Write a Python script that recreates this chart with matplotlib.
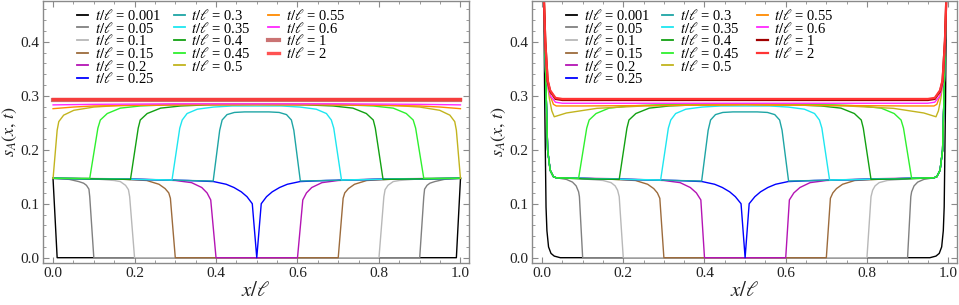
import numpy as np
import matplotlib
matplotlib.use('Agg')
import matplotlib.pyplot as plt
from matplotlib.lines import Line2D
from matplotlib.ticker import MultipleLocator, FormatStrFormatter

plt.rcParams['font.family'] = ['Liberation Serif', 'DejaVu Serif']
plt.rcParams['mathtext.fontset'] = 'stix'

# ---------------- data ----------------
t_labels = ['0.001', '0.05', '0.1', '0.15', '0.2', '0.25', '0.3', '0.35',
            '0.4', '0.45', '0.5', '0.55', '0.6', '1', '2']
colors = ['#000000', '#808080', '#b8b8b8', '#9c6b3c', '#b414b4', '#0000ff',
          '#1ea5a5', '#1ee6f0', '#12a012', '#2ef02e', '#c2b41e', '#ff8a00',
          '#ff28ff', '#a00000', '#ff3434']

# left panel: half curves (x from 0 to 0.5), symmetric about x = 0.5
left_0001_x = [0.0, 0.01, 0.5]
left_0001_y = [0.145, 0.0, 0.0]
left_005_x = [0.0, 0.04, 0.063, 0.075, 0.082, 0.088, 0.09, 0.1, 0.5]
left_005_y = [0.147, 0.145, 0.141, 0.138, 0.134, 0.127, 0.113, 0.0, 0.0]
left_01_x = [0.0, 0.1, 0.15, 0.165, 0.178, 0.185, 0.188, 0.2, 0.5]
left_01_y = [0.147, 0.146, 0.143, 0.141, 0.134, 0.126, 0.113, 0.0, 0.0]
left_015_x = [0.0, 0.15, 0.23, 0.26, 0.275, 0.284, 0.288, 0.3, 0.5]
left_015_y = [0.147, 0.146, 0.143, 0.136, 0.128, 0.12, 0.11, 0.0, 0.0]
left_02_x = [0.0, 0.2, 0.3, 0.34, 0.365, 0.378, 0.387, 0.4, 0.5]
left_02_y = [0.147, 0.146, 0.143, 0.139, 0.130, 0.12, 0.107, 0.0, 0.0]
left_025_x = [0.0, 0.2, 0.33, 0.394, 0.425, 0.444, 0.462, 0.476, 0.489, 0.5]
left_025_y = [0.147, 0.145, 0.143, 0.141, 0.136, 0.13, 0.122, 0.113, 0.10, 0.0]
left_03_x = [0.0, 0.2, 0.393, 0.409, 0.415, 0.427, 0.445, 0.47, 0.5]
left_03_y = [0.147, 0.145, 0.142, 0.236, 0.255, 0.265, 0.269, 0.270, 0.270]
left_035_x = [0.0, 0.15, 0.292, 0.311, 0.317, 0.329, 0.354, 0.394, 0.44, 0.5]
left_035_y = [0.147, 0.146, 0.144, 0.24, 0.255, 0.267, 0.275, 0.279, 0.281, 0.281]
left_04_x = [0.0, 0.1, 0.19, 0.209, 0.214, 0.231, 0.264, 0.313, 0.378, 0.5]
left_04_y = [0.147, 0.146, 0.145, 0.24, 0.255, 0.267, 0.277, 0.281, 0.283, 0.284]
left_045_x = [0.0, 0.09, 0.11, 0.116, 0.133, 0.165, 0.214, 0.28, 0.38, 0.5]
left_045_y = [0.147, 0.147, 0.24, 0.255, 0.267, 0.277, 0.281, 0.283, 0.284, 0.285]
left_05_x = [0.0, 0.01, 0.014, 0.026, 0.051, 0.1, 0.165, 0.3, 0.5]
left_05_y = [0.147, 0.236, 0.252, 0.264, 0.273, 0.279, 0.282, 0.284, 0.285]
left_055_x = [0.0, 0.05, 0.1, 0.2, 0.35, 0.5]
left_055_y = [0.276, 0.279, 0.281, 0.282, 0.283, 0.283]
left_06_x = [0.0, 0.1, 0.3, 0.5]
left_06_y = [0.283, 0.284, 0.285, 0.285]
left_1_x = [0.0, 0.5]
left_1_y = [0.292, 0.292]
left_2_x = [0.0, 0.5]
left_2_y = [0.294, 0.294]

# right panel: half curves with the divergence at the boundary
right_0001_x = [0.004, 0.0065, 0.0098, 0.012, 0.016, 0.022, 0.03, 0.045, 0.5]
right_0001_y = [0.52, 0.292, 0.094, 0.05, 0.02, 0.008, 0.003, 0.0, 0.0]
right_005_x = [0.004, 0.0047, 0.0105, 0.0138, 0.02, 0.028, 0.035, 0.06, 0.075, 0.084, 0.09, 0.092, 0.1, 0.5]
right_005_y = [0.52, 0.477, 0.292, 0.199, 0.162, 0.150, 0.148, 0.145, 0.140, 0.133, 0.122, 0.113, 0.0, 0.0]
right_01_x = [0.004, 0.0047, 0.0105, 0.0138, 0.02, 0.028, 0.035, 0.1, 0.15, 0.17, 0.18, 0.186, 0.19, 0.2, 0.5]
right_01_y = [0.52, 0.477, 0.292, 0.199, 0.162, 0.150, 0.148, 0.146, 0.143, 0.139, 0.133, 0.125, 0.113, 0.0, 0.0]
right_015_x = [0.004, 0.0047, 0.0105, 0.0138, 0.02, 0.028, 0.035, 0.15, 0.23, 0.26, 0.275, 0.284, 0.29, 0.3, 0.5]
right_015_y = [0.52, 0.477, 0.292, 0.199, 0.162, 0.150, 0.148, 0.146, 0.143, 0.136, 0.128, 0.12, 0.11, 0.0, 0.0]
right_02_x = [0.004, 0.0047, 0.0105, 0.0138, 0.02, 0.028, 0.035, 0.2, 0.3, 0.34, 0.365, 0.38, 0.391, 0.4, 0.5]
right_02_y = [0.52, 0.477, 0.292, 0.199, 0.162, 0.150, 0.148, 0.146, 0.143, 0.139, 0.130, 0.12, 0.107, 0.0, 0.0]
right_025_x = [0.004, 0.0047, 0.0105, 0.0138, 0.02, 0.028, 0.035, 0.2, 0.33, 0.394, 0.425, 0.444, 0.462, 0.476, 0.49, 0.5]
right_025_y = [0.52, 0.477, 0.292, 0.199, 0.162, 0.150, 0.148, 0.145, 0.143, 0.141, 0.136, 0.13, 0.122, 0.113, 0.10, 0.0]
right_03_x = [0.004, 0.0047, 0.0105, 0.0138, 0.02, 0.028, 0.035, 0.2, 0.393, 0.409, 0.415, 0.427, 0.445, 0.47, 0.5]
right_03_y = [0.52, 0.477, 0.292, 0.199, 0.162, 0.150, 0.148, 0.145, 0.142, 0.236, 0.255, 0.265, 0.269, 0.270, 0.270]
right_035_x = [0.004, 0.0047, 0.0105, 0.0138, 0.02, 0.028, 0.035, 0.15, 0.292, 0.311, 0.317, 0.329, 0.354, 0.394, 0.44, 0.5]
right_035_y = [0.52, 0.477, 0.292, 0.199, 0.162, 0.150, 0.148, 0.146, 0.144, 0.24, 0.255, 0.267, 0.275, 0.279, 0.281, 0.281]
right_04_x = [0.004, 0.0047, 0.0105, 0.0138, 0.02, 0.028, 0.035, 0.1, 0.19, 0.209, 0.214, 0.231, 0.264, 0.313, 0.378, 0.5]
right_04_y = [0.52, 0.477, 0.292, 0.199, 0.162, 0.150, 0.148, 0.146, 0.145, 0.24, 0.255, 0.267, 0.277, 0.281, 0.283, 0.284]
right_045_x = [0.004, 0.0047, 0.0105, 0.0138, 0.02, 0.028, 0.035, 0.09, 0.11, 0.116, 0.133, 0.165, 0.214, 0.28, 0.38, 0.5]
right_045_y = [0.52, 0.477, 0.292, 0.199, 0.162, 0.150, 0.148, 0.147, 0.24, 0.255, 0.267, 0.277, 0.281, 0.283, 0.284, 0.285]
right_05_x = [0.004, 0.007, 0.012, 0.018, 0.024, 0.03, 0.06, 0.135, 0.25, 0.5]
right_05_y = [0.52, 0.42, 0.33, 0.295, 0.272, 0.261, 0.268, 0.2766, 0.281, 0.284]
right_055_x = [0.004, 0.007, 0.012, 0.02, 0.028, 0.035, 0.1, 0.3, 0.5]
right_055_y = [0.52, 0.43, 0.34, 0.30, 0.284, 0.281, 0.281, 0.282, 0.283]
right_06_x = [0.004, 0.0047, 0.008, 0.0138, 0.02, 0.033, 0.05, 0.5]
right_06_y = [0.52, 0.477, 0.39, 0.32, 0.30, 0.288, 0.286, 0.286]
right_1_x = [0.004, 0.0047, 0.008, 0.0138, 0.02, 0.033, 0.05, 0.5]
right_1_y = [0.52, 0.477, 0.40, 0.327, 0.308, 0.294, 0.292, 0.292]
right_2_x = [0.004, 0.0047, 0.008, 0.0138, 0.02, 0.033, 0.05, 0.5]
right_2_y = [0.52, 0.477, 0.40, 0.329, 0.31, 0.296, 0.294, 0.294]

x_ticks = [0.0, 0.2, 0.4, 0.6, 0.8, 1.0]
y_ticks = [0.0, 0.1, 0.2, 0.3, 0.4]

left_curves = [(left_0001_x, left_0001_y), (left_005_x, left_005_y), (left_01_x, left_01_y),
               (left_015_x, left_015_y), (left_02_x, left_02_y), (left_025_x, left_025_y),
               (left_03_x, left_03_y), (left_035_x, left_035_y), (left_04_x, left_04_y),
               (left_045_x, left_045_y), (left_05_x, left_05_y), (left_055_x, left_055_y),
               (left_06_x, left_06_y), (left_1_x, left_1_y), (left_2_x, left_2_y)]
right_curves = [(right_0001_x, right_0001_y), (right_005_x, right_005_y), (right_01_x, right_01_y),
                (right_015_x, right_015_y), (right_02_x, right_02_y), (right_025_x, right_025_y),
                (right_03_x, right_03_y), (right_035_x, right_035_y), (right_04_x, right_04_y),
                (right_045_x, right_045_y), (right_05_x, right_05_y), (right_055_x, right_055_y),
                (right_06_x, right_06_y), (right_1_x, right_1_y), (right_2_x, right_2_y)]

left_widths = [1.0] * 13 + [3.0, 2.4]
left_alpha = [1.0] * 13 + [0.55, 0.85]
right_widths = [1.0] * 13 + [1.6, 1.6]
right_alpha = [1.0] * 15

# legend column split (entries per column) and column positions
legend_cols = [(0, 6), (6, 11), (11, 15)]
legend_col_x = [0.080, 0.306, 0.529]

# ---------------- figure ----------------
fig = plt.figure(figsize=(9.59, 3.05), dpi=100)
ax_l = fig.add_axes([43.3 / 959, 1 - 263 / 305, 425.7 / 959, 262.5 / 305])
ax_r = fig.add_axes([532.3 / 959, 1 - 263 / 305, 424.4 / 959, 262.5 / 305])

frame_col = '#8a8a8a'


def draw(ax, curves, widths, alphas):
    for (hx, hy), c, w, a in zip(curves, colors, widths, alphas):
        hx = np.asarray(hx, float)
        hy = np.asarray(hy, float)
        xs = np.concatenate([hx, 1.0 - hx[::-1]])
        ys = np.concatenate([hy, hy[::-1]])
        ax.plot(xs, ys, color=c, lw=w, alpha=a, solid_joinstyle='round')
    ax.set_xlim(-0.024, 1.021)
    ax.set_ylim(-0.0098, 0.4763)
    ax.set_xticks(x_ticks)
    ax.set_yticks(y_ticks)
    ax.xaxis.set_major_formatter(FormatStrFormatter('%.1f'))
    ax.yaxis.set_major_formatter(FormatStrFormatter('%.1f'))
    ax.xaxis.set_minor_locator(MultipleLocator(0.05))
    ax.yaxis.set_minor_locator(MultipleLocator(0.02))
    ax.tick_params(which='both', direction='in', top=True, right=True,
                   color=frame_col, labelsize=11, labelcolor='#222222')
    ax.tick_params(which='major', length=4, width=0.8, pad=3)
    ax.tick_params(which='minor', length=2.2, width=0.6)
    for s in ax.spines.values():
        s.set_color(frame_col)
        s.set_linewidth(1.0)
    ax.set_xlabel(r'$x/\ell$', fontsize=15, labelpad=1, color='#222222')
    ax.set_ylabel(r'$s_A(x,\,t)$', fontsize=13, labelpad=1, color='#222222')

    legs = []
    for (i0, i1), xpos in zip(legend_cols, legend_col_x):
        handles = [Line2D([], [], color=colors[i], lw=max(widths[i], 1.3), alpha=alphas[i])
                   for i in range(i0, i1)]
        labels = [r'$t/\ell$ = ' + t_labels[i] for i in range(i0, i1)]
        leg = ax.legend(handles, labels, ncol=1, loc='upper left',
                        bbox_to_anchor=(xpos, 0.972), frameon=False, fontsize=10.5,
                        handlelength=0.75, handletextpad=0.45,
                        labelspacing=-0.16, borderpad=0, borderaxespad=0)
        legs.append(leg)
    for leg in legs[:-1]:
        ax.add_artist(leg)


draw(ax_l, left_curves, left_widths, left_alpha)
draw(ax_r, right_curves, right_widths, right_alpha)

fig.savefig('out.png', dpi=100)
